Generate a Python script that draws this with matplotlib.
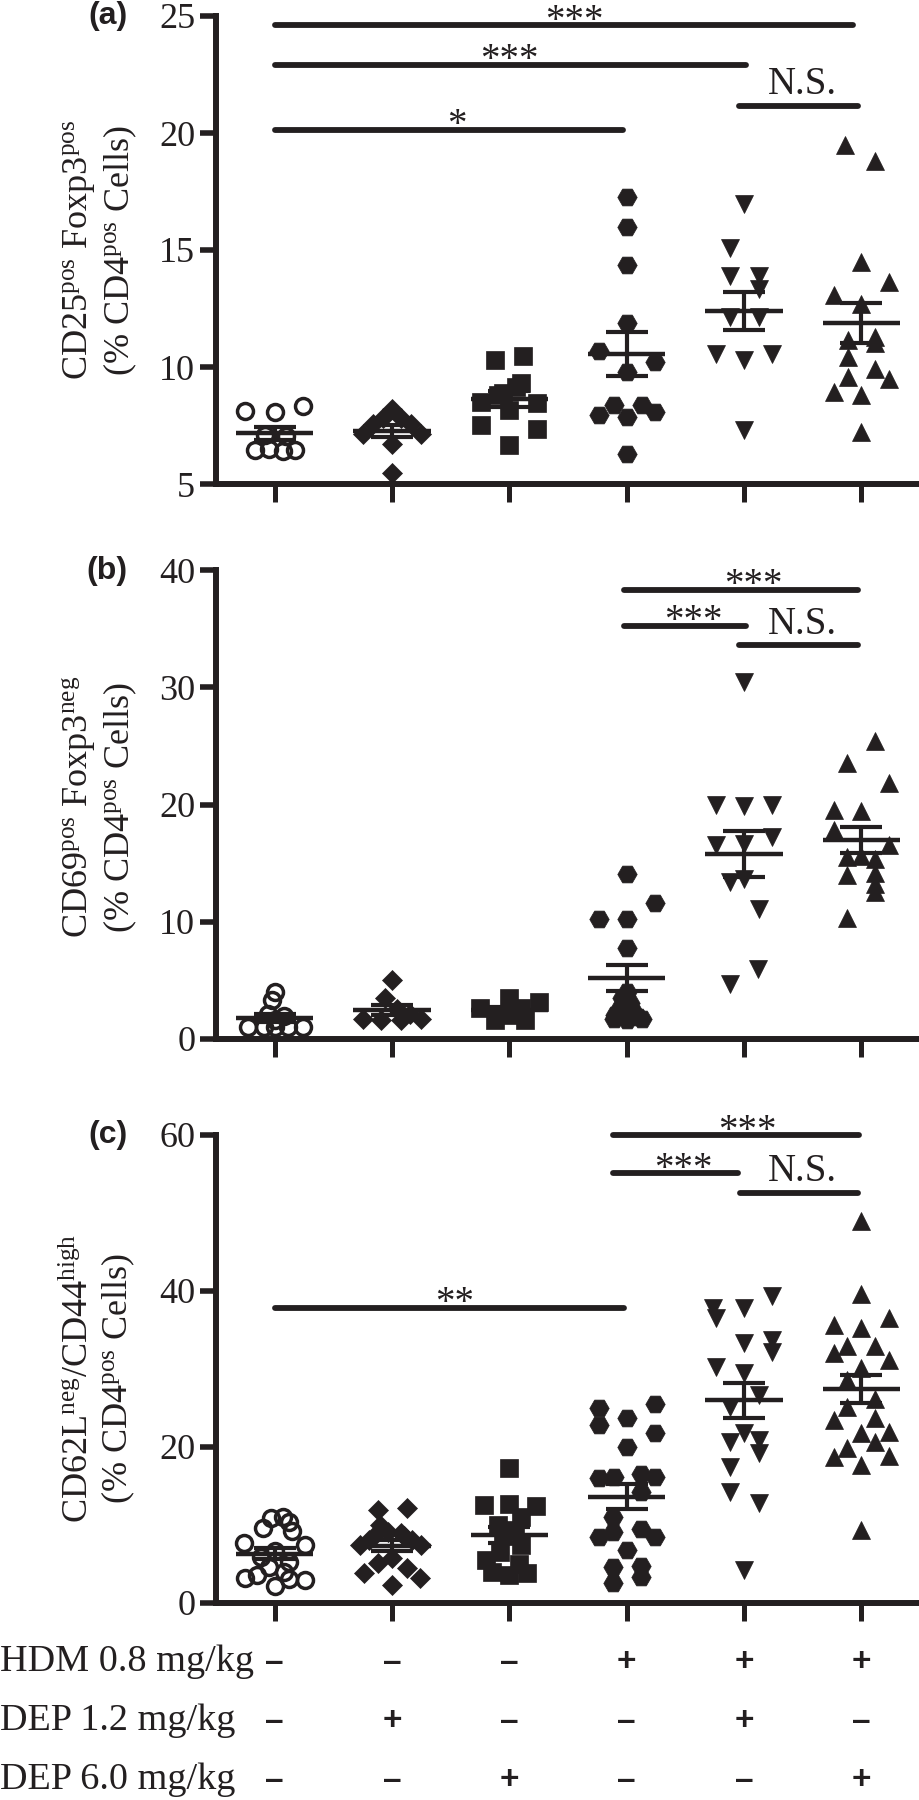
import numpy as np
import matplotlib
matplotlib.use("Agg")
import matplotlib.pyplot as plt
from matplotlib.transforms import blended_transform_factory

plt.rcParams['font.family'] = ['Liberation Serif', 'DejaVu Serif']
plt.rcParams['mathtext.fontset'] = 'custom'
plt.rcParams['mathtext.rm'] = 'Liberation Serif'
plt.rcParams['mathtext.it'] = 'Liberation Serif:italic'
plt.rcParams['mathtext.bf'] = 'Liberation Serif:bold'

INK = '#231f20'

# ---------------- data ----------------
groups = ['Control', 'DEP 1.2', 'DEP 6.0', 'HDM', 'HDM+DEP 1.2', 'HDM+DEP 6.0']
markers = ['o', 'D', 's', 'H', 'v', '^']

# Panel (a) CD25pos Foxp3pos
a_vals = [
    [8.13, 8.08, 8.33, 7.1, 7.05, 6.45, 6.5, 6.4, 6.45],
    [5.46, 6.71, 7.13, 7.13, 8.2, 7.8, 7.8, 7.55, 7.55],
    [10.29, 10.46, 9.15, 8.8, 8.51, 7.52, 8.16, 8.47, 7.37, 6.66, 9.3, 8.9],
    [17.25, 15.97, 14.38, 11.9, 10.68, 10.2, 9.79, 8.37, 8.37, 7.94, 7.87, 8.08, 6.28],
    [16.97, 15.09, 13.91, 13.91, 13.35, 12.13, 12.13, 10.57, 10.29, 10.57, 7.3],
    [19.47, 18.79, 14.48, 13.63, 13.06, 12.7, 11.14, 11.28, 11.03, 10.43, 9.93, 9.58, 9.5, 8.94, 8.8, 7.23],
]
a_jit = [
    [-0.25, 0.0, 0.24, -0.08, 0.1, -0.17, -0.05, 0.07, 0.17],
    [0.0, 0.0, -0.25, 0.25, 0.0, -0.08, 0.08, -0.16, 0.16],
    [-0.12, 0.12, 0.06, -0.1, -0.24, -0.24, 0.0, 0.24, 0.24, 0.0, 0.1, -0.05],
    [0.0, 0.0, 0.0, 0.0, -0.24, 0.24, 0.0, -0.11, 0.13, -0.24, 0.0, 0.24, 0.0],
    [0.0, -0.12, -0.12, 0.13, 0.13, -0.12, 0.13, -0.24, 0.0, 0.24, 0.0],
    [-0.14, 0.12, 0.0, 0.24, -0.23, 0.0, -0.11, 0.12, 0.12, -0.11, 0.12, -0.11, 0.24, -0.23, 0.0, 0.0],
]

# Panel (b) CD69pos Foxp3neg
b_vals = [
    [4.0, 3.3, 2.1, 1.9, 1.6, 1.0, 1.0, 1.0, 1.0, 1.0],
    [5.0, 3.43, 2.5, 2.1, 1.7, 1.6, 1.6, 1.7],
    [3.5, 3.1, 2.6, 1.6, 1.6, 2.0, 2.6],
    [14.04, 11.59, 10.25, 10.25, 7.7, 4.0, 3.5, 3.0, 2.6, 2.2, 2.0, 1.8, 1.7, 1.6, 1.7],
    [30.5, 19.92, 19.84, 19.92, 17.22, 16.51, 16.65, 13.38, 13.67, 11.11, 5.94, 4.62],
    [25.47, 23.53, 21.83, 19.5, 19.44, 17.79, 16.51, 15.51, 15.6, 15.3, 13.95, 14.12, 13.24, 12.53, 10.26],
]
b_jit = [
    [0.0, -0.02, -0.06, 0.08, 0.0, -0.23, -0.09, 0.0, 0.11, 0.24],
    [0.0, -0.06, 0.04, 0.15, -0.25, -0.09, 0.08, 0.25],
    [0.0, 0.25, -0.25, -0.12, 0.13, 0.0, 0.1],
    [0.0, 0.24, -0.24, 0.0, 0.0, 0.0, -0.04, 0.03, -0.06, 0.06, -0.1, 0.1, -0.11, 0.0, 0.13],
    [0.0, -0.24, 0.0, 0.24, 0.24, -0.24, 0.0, -0.12, 0.0, 0.13, 0.12, -0.12],
    [0.12, -0.12, 0.24, -0.23, 0.0, -0.23, 0.24, -0.12, 0.0, 0.12, -0.12, 0.12, 0.12, 0.12, -0.12],
]

# Panel (c) CD62Lneg/CD44high
c_vals = [
    [11.0, 10.8, 10.3, 9.6, 9.2, 7.6, 7.4, 6.6, 5.8, 5.2, 4.6, 4.0, 3.5, 3.2, 3.0, 2.9, 2.1],
    [11.87, 12.08, 9.95, 9.1, 9.0, 8.5, 8.5, 8.0, 8.0, 7.39, 7.39, 5.68, 5.04, 4.4, 3.76, 3.12, 2.26],
    [17.3, 12.5, 12.4, 12.7, 11.0, 10.0, 9.3, 8.5, 7.4, 6.5, 5.5, 5.0, 4.0, 3.8, 3.6],
    [24.92, 22.78, 23.64, 25.47, 21.72, 19.92, 15.95, 16.1, 16.5, 16.1, 14.23, 11.03, 8.46, 9.1, 9.5,
     8.46, 6.76, 4.54, 2.49, 4.7, 3.33],
    [37.8, 37.8, 39.3, 36.46, 33.26, 33.68, 32.18, 30.26, 29.49, 26.63, 25.13, 21.72, 20.64, 20.8,
     19.15, 17.44, 14.23, 12.74, 4.19],
    [49.0, 39.6, 36.46, 35.6, 35.18, 32.91, 32.91, 31.97, 31.12, 30.05, 28.55, 26.07, 25.13, 23.42,
     23.64, 21.92, 21.72, 19.79, 20.64, 18.72, 18.87, 17.65, 9.32],
]
c_jit = [
    [0.07, -0.03, 0.12, -0.1, 0.15, -0.26, 0.26, 0.0, -0.12, 0.12, -0.05, 0.08, -0.15, -0.25, 0.12, 0.26, 0.0],
    [-0.12, 0.13, -0.1, -0.03, 0.08, -0.15, 0.1, -0.2, 0.17, -0.27, 0.25, 0.0, -0.12, 0.13, -0.24, 0.24, 0.0],
    [0.0, -0.22, 0.23, 0.0, 0.1, -0.1, 0.05, -0.05, 0.1, -0.08, -0.2, 0.08, -0.15, 0.15, 0.0],
    [-0.24, -0.24, 0.0, 0.24, 0.24, 0.0, -0.24, -0.11, 0.12, 0.24, 0.12, -0.12, -0.24, -0.12, 0.12,
     0.24, 0.0, -0.12, -0.12, 0.12, 0.12],
    [-0.26, 0.0, 0.24, -0.24, 0.0, 0.24, 0.24, -0.24, 0.0, 0.13, -0.12, 0.0, -0.12, 0.13, 0.13,
     -0.12, -0.12, 0.13, 0.0],
    [0.0, 0.0, 0.24, -0.23, 0.0, -0.12, 0.12, -0.23, 0.24, 0.0, -0.12, 0.12, -0.12, -0.23, 0.12,
     0.24, 0.0, -0.12, 0.12, -0.23, 0.24, 0.0, 0.0],
]

# significance brackets: (x_start, x_end, y, label, label_x)
a_sig = [(0.0, 4.93, 24.6, '***', 2.55), (0.0, 4.02, 22.91, '***', 2.0),
         (3.96, 4.97, 21.16, 'N.S.', 4.5), (0.0, 2.97, 20.14, '*', 1.55)]
b_sig = [(2.98, 4.97, 38.37, '***', 4.08), (2.98, 4.02, 35.28, '***', 3.57),
         (3.96, 4.97, 33.6, 'N.S.', 4.5)]
c_sig = [(2.88, 4.98, 59.9, '***', 4.03), (2.88, 3.95, 55.05, '***', 3.48),
         (3.97, 4.97, 52.5, 'N.S.', 4.5), (0.0, 2.98, 37.8, '**', 1.53)]

a_ticks = [5, 10, 15, 20, 25]
b_ticks = [0, 10, 20, 30, 40]
c_ticks = [0, 20, 40, 60]

a_label = 'CD25$^{\\mathrm{pos}}$ Foxp3$^{\\mathrm{pos}}$\n(% CD4$^{\\mathrm{pos}}$ Cells)'
b_label = 'CD69$^{\\mathrm{pos}}$ Foxp3$^{\\mathrm{neg}}$\n(% CD4$^{\\mathrm{pos}}$ Cells)'
c_label = 'CD62L$^{\\mathrm{neg}}$/CD44$^{\\mathrm{high}}$\n(% CD4$^{\\mathrm{pos}}$ Cells)'

row_labels = ['HDM 0.8 mg/kg', 'DEP 1.2 mg/kg', 'DEP 6.0 mg/kg']
HDM_08 = [0, 0, 0, 1, 1, 1]
DEP_12 = [0, 1, 0, 0, 1, 0]
DEP_60 = [0, 0, 1, 0, 0, 1]

# ---------------- figure ----------------
fig = plt.figure(figsize=(9.2, 18.0), dpi=100)
L, W = 216 / 920, 704 / 920
H = 468 / 1800
ax_a = fig.add_axes([L, 1 - 484 / 1800, W, H])
ax_b = fig.add_axes([L, 1 - 1038.5 / 1800, W, H])
ax_c = fig.add_axes([L, 1 - 1602.7 / 1800, W, H])

MS = {'o': 11.5, 'D': 9.8, 's': 13.5, 'H': 14, 'v': 13.5, '^': 13.5}


def draw_panel(ax, vals, jit, sigs, ticks, label, tag, label_y=0.5):
    for i, (v, j) in enumerate(zip(vals, jit)):
        v = np.asarray(v, float)
        x = i + np.asarray(j, float)
        m = markers[i]
        if m == 'o':
            ax.plot(x, v, ls='none', marker='o', ms=MS[m], mfc='none', mec=INK,
                    mew=2.5, clip_on=False, zorder=3)
        else:
            ax.plot(x, v, ls='none', marker=m, ms=MS[m], mfc=INK, mec=INK,
                    mew=0.5, clip_on=False, zorder=3)
        mean = v.mean()
        sem = v.std(ddof=1) / np.sqrt(len(v))
        ax.hlines(mean, i - 0.33, i + 0.33, color=INK, lw=3.2, zorder=4)
        ax.hlines([mean - sem, mean + sem], i - 0.18, i + 0.18, color=INK, lw=3.0, zorder=4)
        ax.vlines(i, mean - sem, mean + sem, color=INK, lw=3.0, zorder=4)

    for x0, x1, y, txt, tx in sigs:
        ax.plot([x0, x1], [y, y], color=INK, lw=4.2, solid_capstyle='round',
                clip_on=False, zorder=2)
        if txt == 'N.S.':
            ax.annotate(txt, (tx, y), xytext=(0, 8.5), textcoords='offset points',
                        ha='center', va='baseline', fontsize=28, color=INK,
                        annotation_clip=False)
        else:
            ax.annotate(txt, (tx, y), xytext=(0, -4), textcoords='offset points',
                        ha='center', va='baseline', fontsize=28, color=INK,
                        annotation_clip=False)

    ax.set_xlim(-0.5, 5.5)
    ax.set_ylim(ticks[0], ticks[-1])
    ax.set_yticks(ticks)
    ax.set_xticks(range(6))
    ax.set_xticklabels([])
    for s in ['top', 'right']:
        ax.spines[s].set_visible(False)
    for s in ['left', 'bottom']:
        ax.spines[s].set_linewidth(4.3)
        ax.spines[s].set_color(INK)
    ax.tick_params(axis='y', direction='out', length=11.5, width=4.0, color=INK,
                   pad=3.5, labelsize=26, labelcolor=INK)
    ax.tick_params(axis='x', direction='out', length=13, width=3.6, color=INK)
    ax.text(-0.165, label_y, label, transform=ax.transAxes, rotation=90,
            ha='center', va='center', multialignment='center', fontsize=26,
            color=INK, linespacing=1.15)
    ax.text(128 / 920, 1.0, tag,
            transform=blended_transform_factory(fig.transFigure, ax.transAxes),
            ha='right', va='center', fontsize=23, fontweight='bold',
            family=['Liberation Sans', 'DejaVu Sans'], color=INK)


draw_panel(ax_a, a_vals, a_jit, a_sig, a_ticks, a_label, '(a)', 0.5)
draw_panel(ax_b, b_vals, b_jit, b_sig, b_ticks, b_label, '(b)', 0.495)
draw_panel(ax_c, c_vals, c_jit, c_sig, c_ticks, c_label, '(c)', 0.48)

# treatment table below panel (c)
trans = blended_transform_factory(ax_c.transData, fig.transFigure)
row_base = [1671, 1730, 1789]
for lab, flags, yb in zip(row_labels, [HDM_08, DEP_12, DEP_60], row_base):
    yf = 1 - yb / 1800
    fig.text(0.0, yf, lab, ha='left', va='baseline', fontsize=27.5, color=INK)
    for i, f in enumerate(flags):
        ax_c.text(i, yf, '+' if f else '\u2013', transform=trans, ha='center',
                  va='baseline', fontsize=24, fontweight='bold',
                  family=['Liberation Sans', 'DejaVu Sans'], color=INK)

fig.savefig('out.png', dpi=100)
